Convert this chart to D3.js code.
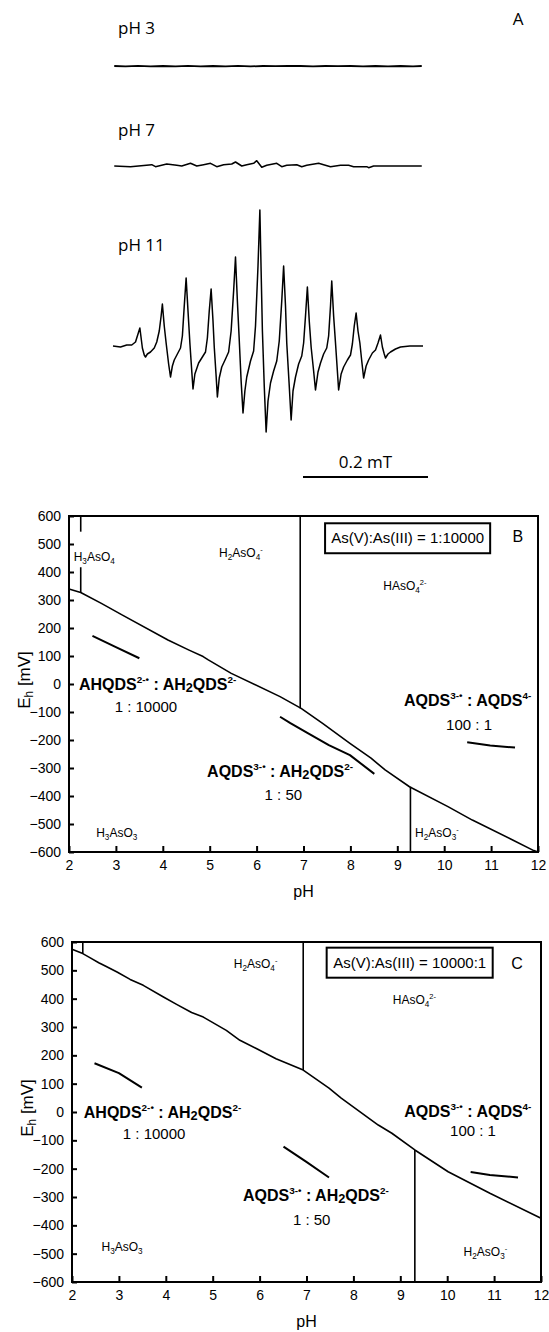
<!DOCTYPE html>
<html><head><meta charset="utf-8">
<script src="https://cdn.jsdelivr.net/npm/d3@7"></script>
<style>
html,body{margin:0;padding:0;background:#fff;}
svg{display:block;}
text{font-family:"Liberation Sans",Arial,Helvetica,sans-serif;fill:#000;}
</style></head><body>
<svg id="chart" width="549" height="1332"></svg>
<script>
// ================= DATA =================
// Panel A: EPR spectra (field in µT relative to left end, amplitude in arbitrary units)
const eprLabels = ["pH 3", "pH 7", "pH 11"];
const eprField3 = [2,20,40,60,80,100,120,140,160,180,200,220,240,260,280,300,320,340,360,380,400,420,440,460,480,494];
const eprAmp3   = [0,-0.4,0.2,-0.4,0,-0.4,0.1,-0.3,0,-0.4,0.2,-0.4,0,-0.2,0,0,-0.4,0,-0.2,0,-0.3,0,-0.3,0,-0.4,0];
const eprField7 = [2,28,62,68,86,102,110,124,134,145,156,166,177,190,196,206,214,225,230,238,246,262,270,278,294,302,310,329,337,348,364,377,385,406,409,417,494];
const eprAmp7   = [0,-0.7,1.3,-0.7,2,0.7,0,2.7,0,1.3,2.7,-0.7,1.3,2,4,0,1.3,2.7,5.3,-1.3,0.7,2.7,-0.7,0.7,1.3,-0.7,0.7,2.7,1.3,-0.7,0.7,0.7,-0.7,-0.7,-1.7,0,0];
const eprField11 = [0,12,22,30,36,40,43,45,47,50,52,55,60,66,70,74,77,79,82,85,89,92,95,98,103,108,111,114,117,120,123,126,128,131,137,143,148,151,154,157,160,162,165,167,170,174,180,185,189,193,196,199,202,205,208,211,214,220,225,228,232,235,237,239,242,245,248,252,257,262,266,270,273,276,278,282,285,288,292,297,302,305,308,311,314,317,321,324,328,332,337,342,345,348,350,353,356,359,361,365,369,375,380,383,386,389,392,395,398,401,405,409,415,420,424,428,431,434,436,440,444,452,460,475,496];
const eprAmp11   = [0,-1,1,1,4,12,18,8,-2,-9,-11,-8,-6,-2,4,15,30,42,20,3,-18,-31,-20,-14,-8,-2,10,40,68,35,3,-25,-43,-28,-17,-11,-6,8,35,57,25,-1,-30,-51,-32,-21,-13,-6,15,55,89,45,6,-35,-67,-45,-31,-15,-5,20,80,136,75,16,-40,-86,-55,-37,-25,-15,5,45,80,40,3,-40,-74,-45,-31,-18,-10,3,30,59,25,-1,-25,-44,-26,-17,-8,-2,10,40,65,30,3,-25,-44,-28,-21,-14,-9,2,20,33,15,3,-15,-32,-20,-14,-7,-4,3,11,-1,-8,-12,-8,-6,-3,-1,0,0];
const scaleBarStart = 304;   // µT
const scaleBarLength = 200;  // µT = 0.2 mT
const scaleBarLabel = "0.2 mT";

// Shared axis ticks for panels B and C
const pHTicks = [2,3,4,5,6,7,8,9,10,11,12];
const EhTicks = [600,500,400,300,200,100,0,-100,-200,-300,-400,-500,-600];

// Panel B: As(V):As(III) = 1:10000
const bMainPH = [2.0,2.25,2.69,3.14,4.11,4.56,4.86,4.97,5.46,6.50,6.95,7.40,7.99,8.44,8.74,9.26,10.08,10.60,11.46,11.91,12.0];
const bMainEh = [339,327,288,246,157,121,98,86,38,-45,-87,-140,-212,-265,-307,-367,-438,-486,-557,-595,-600];
const bVertPH  = [2.25,2.25,6.93,9.28];
const bVertTop = [600,417,600,-367];
const bVertBot = [544,327,-87,-600];
const bSeg1PH = [2.5,3.0,3.5],  bSeg1Eh = [172,132,92];
const bSeg2PH = [6.5,6.72,7.10,7.54,7.99,8.51], bSeg2Eh = [-117,-140,-176,-218,-254,-321];
const bSeg3PH = [10.49,10.98,11.51], bSeg3Eh = [-208,-220,-227];

// Panel C: As(V):As(III) = 10000:1
const cMainPH = [2.0,2.23,2.39,2.57,2.71,2.96,3.24,3.52,3.95,4.23,4.55,4.80,5.29,5.58,5.93,6.35,6.93,7.48,7.74,8.53,8.82,9.31,10.02,10.91,12.0];
const cMainEh = [574,559,544,527,515,494,468,447,406,380,351,335,288,253,224,188,148,84,49,-46,-75,-134,-211,-287,-375];
const cVertPH  = [2.23,6.93,9.31];
const cVertTop = [600,600,-134];
const cVertBot = [559,148,-600];
const cSeg1PH = [2.48,3.0,3.49], cSeg1Eh = [172,137,86];
const cSeg2PH = [6.51,6.99,7.48], cSeg2Eh = [-122,-175,-231];
const cSeg3PH = [10.50,10.91,11.51], cSeg3Eh = [-212,-222,-231];

// Text (markup: _{sub} ^{sup})
const speciesB = ["H_{3}AsO_{4}","H_{2}AsO_{4}^{-}","HAsO_{4}^{2-}","H_{3}AsO_{3}","H_{2}AsO_{3}^{-}"];
const speciesC = ["H_{2}AsO_{4}^{-}","HAsO_{4}^{2-}","H_{3}AsO_{3}","H_{2}AsO_{3}^{-}"];
const coupleText = ["AHQDS^{2-•} : AH_{2}QDS^{2-}","AQDS^{3-•} : AH_{2}QDS^{2-}","AQDS^{3-•} : AQDS^{4-}"];
const ratioText = ["1 : 10000","1 : 50","100 : 1"];
const boxTextB = "As(V):As(III) = 1:10000";
const boxTextC = "As(V):As(III) = 10000:1";

// ================= LAYOUT =================
const svg = d3.select("#chart");

function rich(g, markup, x, y, size, opt) {
  opt = opt || {};
  const t = g.append("text").attr("x", x).attr("y", y).attr("font-size", size)
    .attr("text-anchor", opt.anchor || "start")
    .attr("font-weight", opt.weight || "normal");
  if (opt.family) t.style("font-family", opt.family);
  const parts = markup.split(/(\^\{[^}]*\}|_\{[^}]*\})/).filter(s => s.length);
  let cur = 0;
  parts.forEach(p => {
    let txt = p, off = 0, fs = size;
    if (p.startsWith("^{")) { txt = p.slice(2, -1); off = -size * (opt.supOff || 0.42); fs = size * (opt.supScale || 0.62); }
    else if (p.startsWith("_{")) { txt = p.slice(2, -1); off = size * (opt.subOff || 0.22); fs = size * (opt.subScale || 0.68); }
    t.append("tspan").attr("dy", (off - cur).toFixed(2)).attr("font-size", fs.toFixed(2)).text(txt);
    cur = off;
  });
  return t;
}

// ---------- Panel A ----------
(function () {
  const gA = svg.append("g");
  const fx = d3.scaleLinear().domain([0, 496]).range([113, 423]);
  const fy = d3.scaleLinear().domain([-100, 100]).range([100, -100]);
  const baselines = [66, 166, 346];
  const labelY = [34, 136, 251];
  const fields = [eprField3, eprField7, eprField11];
  const amps = [eprAmp3, eprAmp7, eprAmp11];
  const line = d3.line().x(d => fx(d[0])).y(d => fy(d[1]));
  fields.forEach((f, i) => {
    const g = gA.append("g").attr("transform", `translate(0,${baselines[i]})`);
    g.append("path").datum(d3.zip(f, amps[i])).attr("d", line)
      .attr("fill", "none").attr("stroke", "#000").attr("stroke-width", i === 0 ? 1.8 : 1.5)
      .attr("stroke-linejoin", "round");
    gA.append("text").attr("x", 118).attr("y", labelY[i]).attr("font-size", 17)
      .style("font-family", '"Open Sans","Noto Sans",sans-serif').text(eprLabels[i]);
  });
  gA.append("text").attr("x", 518).attr("y", 25).attr("font-size", 17).attr("text-anchor", "middle")
    .style("font-family", '"Open Sans","Noto Sans",sans-serif').text("A");
  gA.append("line").attr("x1", fx(scaleBarStart)).attr("x2", fx(scaleBarStart + scaleBarLength))
    .attr("y1", 477).attr("y2", 477).attr("stroke", "#000").attr("stroke-width", 2.2);
  gA.append("text").attr("x", (fx(scaleBarStart) + fx(scaleBarStart + scaleBarLength)) / 2).attr("y", 468)
    .attr("font-size", 17).attr("text-anchor", "middle")
    .style("font-family", '"Open Sans","Noto Sans",sans-serif').text(scaleBarLabel);
})();

// ---------- Panels B & C ----------
function drawPanel(p) {
  const x = d3.scaleLinear().domain([2, 12]).range([p.left, p.right]);
  const y = d3.scaleLinear().domain([-600, 600]).range([p.bottom, p.top]);
  const g = svg.append("g");
  const line = d3.line().x(d => x(d[0])).y(d => y(d[1]));

  const xa = d3.axisBottom(x).tickValues(pHTicks).tickSize(-6).tickPadding(8).tickFormat(d3.format("d"));
  const gx = g.append("g").attr("transform", `translate(0,${p.bottom})`).call(xa);
  const ya = d3.axisLeft(y).tickValues(EhTicks).tickSize(-5).tickPadding(8).tickFormat(d3.format("d"));
  const gy = g.append("g").attr("transform", `translate(${p.left},0)`).call(ya);
  [gx, gy].forEach(a => {
    a.select(".domain").remove();
    a.attr("font-family", null).attr("font-size", null);
    a.selectAll("line").attr("stroke", "#000").attr("stroke-width", 2);
    a.selectAll("text").attr("font-size", 14).attr("fill", "#000");
  });

  g.append("rect").attr("x", p.left).attr("y", p.top).attr("width", p.right - p.left).attr("height", p.bottom - p.top)
    .attr("fill", "none").attr("stroke", "#000").attr("stroke-width", 2);

  g.append("path").datum(d3.zip(p.mainPH, p.mainEh)).attr("d", line)
    .attr("fill", "none").attr("stroke", "#000").attr("stroke-width", 1.6).attr("stroke-linejoin", "round");
  p.vertPH.forEach((ph, i) => {
    g.append("line").attr("x1", x(ph)).attr("x2", x(ph)).attr("y1", y(p.vertTop[i])).attr("y2", y(p.vertBot[i]))
      .attr("stroke", "#000").attr("stroke-width", 1.6);
  });
  p.segs.forEach(s => {
    g.append("path").datum(d3.zip(s[0], s[1])).attr("d", line)
      .attr("fill", "none").attr("stroke", "#000").attr("stroke-width", 2).attr("stroke-linejoin", "round");
  });

  // box
  g.append("rect").attr("x", x(p.box[0])).attr("y", y(p.box[2])).attr("width", x(p.box[1]) - x(p.box[0]))
    .attr("height", y(p.box[3]) - y(p.box[2])).attr("fill", "none").attr("stroke", "#000").attr("stroke-width", 2);
  g.append("text").attr("x", x(p.boxTextPos[0])).attr("y", y(p.boxTextPos[1])).attr("font-size", 15)
    .attr("text-anchor", "middle").text(p.boxText);
  g.append("text").attr("x", x(p.letterPos[0])).attr("y", y(p.letterPos[1])).attr("font-size", 16)
    .attr("text-anchor", "middle").text(p.letter);

  p.species.forEach((s, i) => rich(g, s, x(p.speciesPos[i][0]), y(p.speciesPos[i][1]), 12, {}));
  coupleText.forEach((s, i) => rich(g, s, x(p.couplePos[i][0]), y(p.couplePos[i][1]), 16,
    { anchor: "middle", weight: "bold", subScale: 0.8, subOff: 0.14, supScale: 0.62, supOff: 0.42 }));
  ratioText.forEach((s, i) => g.append("text").attr("x", x(p.ratioPos[i][0])).attr("y", y(p.ratioPos[i][1]))
    .attr("font-size", 15).attr("text-anchor", "middle").text(s));

  g.append("text").attr("x", (p.left + p.right) / 2).attr("y", p.pHY).attr("font-size", 16)
    .attr("text-anchor", "middle").text("pH");
  const eh = rich(g, "E_{h} [mV]", 0, 0, 17, { anchor: "middle", subScale: 0.7, subOff: 0.16 });
  eh.attr("transform", `translate(${p.ehX},${(p.top + p.bottom) / 2 - 4}) rotate(-90)`);
}

drawPanel({
  left: 69, right: 538, top: 516, bottom: 852, pHY: 897, ehX: 30,
  mainPH: bMainPH, mainEh: bMainEh, vertPH: bVertPH, vertTop: bVertTop, vertBot: bVertBot,
  segs: [[bSeg1PH, bSeg1Eh], [bSeg2PH, bSeg2Eh], [bSeg3PH, bSeg3Eh]],
  box: [7.46, 10.98, 574, 467], boxText: boxTextB, boxTextPos: [9.22, 502],
  letter: "B", letterPos: [11.57, 506],
  species: speciesB, speciesPos: [[2.10, 439], [5.20, 454], [8.70, 336], [2.58, -546], [9.38, -546]],
  couplePos: [[3.89, -21], [6.50, -332], [10.50, -79]],
  ratioPos: [[3.64, -100], [6.57, -414], [10.53, -164]]
});

drawPanel({
  left: 72, right: 541, top: 942, bottom: 1282, pHY: 1327, ehX: 33,
  mainPH: cMainPH, mainEh: cMainEh, vertPH: cVertPH, vertTop: cVertTop, vertBot: cVertBot,
  segs: [[cSeg1PH, cSeg1Eh], [cSeg2PH, cSeg2Eh], [cSeg3PH, cSeg3Eh]],
  box: [7.43, 10.97, 580, 474], boxText: boxTextC, boxTextPos: [9.2, 508],
  letter: "C", letterPos: [11.49, 505],
  species: speciesC, speciesPos: [[5.45, 508], [8.84, 381], [2.63, -491], [10.35, -508]],
  couplePos: [[3.93, -21], [7.20, -314], [10.44, -18]],
  ratioPos: [[3.75, -95], [7.11, -399], [10.55, -85]]
});
</script>
</body></html>
